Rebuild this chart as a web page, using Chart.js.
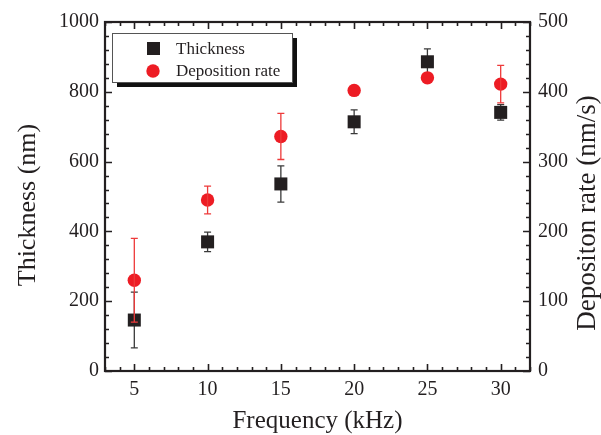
<!DOCTYPE html>
<html><head><meta charset="utf-8">
<script src="https://cdn.jsdelivr.net/npm/chart.js@4/dist/chart.umd.min.js"></script>
<style>html,body{margin:0;padding:0;background:#fff}#wrap{width:601px;height:435px;position:relative}</style>
</head><body><div id="wrap"><canvas id="c" width="601" height="435"></canvas></div>
<script>
// ---- data ----
const frequencies = [5, 10, 15, 20, 25, 30];            // kHz
const thickness = [146, 370, 536, 714, 886, 741];       // nm
const thicknessErr = [80, 28, 52, 34, 37, 22];          // nm
const depositionRate = [130, 245, 336, 402, 420, 411];  // nm/s
const depositionErr = [60, 20, 33, 0, 0, 27];           // nm/s
const xTicks = [5, 10, 15, 20, 25, 30];
const yTicks = [0, 200, 400, 600, 800, 1000];
const y2Ticks = [0, 100, 200, 300, 400, 500];
const seriesNames = ['Thickness', 'Deposition rate'];
const axisTitles = ['Frequency (kHz)', 'Thickness (nm)', 'Depositon rate (nm/s)'];

const F = "'Liberation Serif', 'Times New Roman', serif";
const INK = '#231f20';
const RED = '#ed1c24';

function errBars(chart, vals, errs, color, scaleId) {
  const ctx = chart.ctx, xs = chart.scales.x, ys = chart.scales[scaleId];
  ctx.save();
  ctx.strokeStyle = color; ctx.lineWidth = 1.3;
  frequencies.forEach((f, i) => {
    if (!errs[i]) return;
    const x = xs.getPixelForValue(f);
    const yt = ys.getPixelForValue(vals[i] + errs[i]);
    const yb = ys.getPixelForValue(vals[i] - errs[i]);
    ctx.beginPath();
    ctx.moveTo(x, yt); ctx.lineTo(x, yb);
    ctx.moveTo(x - 3.5, yt); ctx.lineTo(x + 3.5, yt);
    ctx.moveTo(x - 3.5, yb); ctx.lineTo(x + 3.5, yb);
    ctx.stroke();
  });
  ctx.restore();
}

function vTitle(ctx, text, x, y, size) {
  ctx.save();
  ctx.translate(x, y);
  ctx.rotate(-Math.PI / 2);
  ctx.font = size + 'px ' + F;
  ctx.fillStyle = INK;
  ctx.textAlign = 'center';
  ctx.textBaseline = 'middle';
  ctx.fillText(text, 0, 0);
  ctx.restore();
}

const framePlugin = {
  id: 'framePlugin',
  beforeDatasetsDraw(chart) {
    errBars(chart, thickness, thicknessErr, '#3a3a3a', 'y');
  },
  afterDatasetsDraw(chart) {
    errBars(chart, depositionRate, depositionErr, '#ee3a3a', 'y1');
    const ctx = chart.ctx, a = chart.chartArea;
    const xs = chart.scales.x, ys = chart.scales.y, y2 = chart.scales.y1;
    ctx.save();
    ctx.strokeStyle = INK;
    // ticks (inward)
    ctx.lineWidth = 1.6;
    ctx.beginPath();
    for (let v = Math.ceil(xs.min); v <= xs.max; v++) {
      const x = Math.round(xs.getPixelForValue(v)) + 0.5;
      const L = (v % 5 === 0) ? 7 : 4;
      ctx.moveTo(x, a.bottom); ctx.lineTo(x, a.bottom - L);
      ctx.moveTo(x, a.top); ctx.lineTo(x, a.top + L);
    }
    for (let v = 0; v <= ys.max; v += 40) {
      const y = Math.round(ys.getPixelForValue(v)) + 0.5;
      const L = (v % 200 === 0) ? 7 : 4;
      ctx.moveTo(a.left, y); ctx.lineTo(a.left + L, y);
    }
    for (let v = 0; v <= y2.max; v += 20) {
      const y = Math.round(y2.getPixelForValue(v)) + 0.5;
      const L = (v % 100 === 0) ? 7 : 4;
      ctx.moveTo(a.right, y); ctx.lineTo(a.right - L, y);
    }
    ctx.stroke();
    // frame
    ctx.lineWidth = 2.2;
    ctx.strokeRect(a.left, a.top, a.right - a.left, a.bottom - a.top);
    // vertical axis titles (both read bottom-to-top)
    vTitle(ctx, axisTitles[1], 28, 205, 26);
    vTitle(ctx, axisTitles[2], 588, 213, 27);
    // legend
    const lx = 112, ly = 33, lw = 180, lh = 49;
    ctx.fillStyle = '#111';
    ctx.fillRect(lx + 5, ly + 5, lw, lh);
    ctx.fillStyle = '#fff';
    ctx.fillRect(lx, ly, lw, lh);
    ctx.lineWidth = 1; ctx.strokeStyle = '#555';
    ctx.strokeRect(lx + 0.5, ly + 0.5, lw, lh);
    ctx.fillStyle = INK;
    ctx.fillRect(147, 42, 13, 13);
    ctx.fillStyle = RED;
    ctx.beginPath(); ctx.arc(153, 71, 6.7, 0, Math.PI * 2); ctx.fill();
    ctx.fillStyle = INK;
    ctx.font = '17px ' + F;
    ctx.textBaseline = 'alphabetic'; ctx.textAlign = 'left';
    ctx.fillText(seriesNames[0], 176, 54);
    ctx.fillText(seriesNames[1], 176, 76);
    ctx.restore();
  }
};

new Chart(document.getElementById('c'), {
  type: 'scatter',
  data: {
    datasets: [
      {
        label: seriesNames[0],
        data: frequencies.map((f, i) => ({ x: f, y: thickness[i] })),
        yAxisID: 'y',
        pointStyle: 'rect',
        pointRadius: 9.2,
        pointHoverRadius: 9.2,
        backgroundColor: INK,
        borderColor: INK,
        borderWidth: 0
      },
      {
        label: seriesNames[1],
        data: frequencies.map((f, i) => ({ x: f, y: depositionRate[i] })),
        yAxisID: 'y1',
        pointStyle: 'circle',
        pointRadius: 6.7,
        pointHoverRadius: 6.7,
        backgroundColor: RED,
        borderColor: RED,
        borderWidth: 0
      }
    ]
  },
  options: {
    responsive: false,
    animation: false,
    devicePixelRatio: 1,
    layout: { padding: { top: 22, left: 0, right: 0, bottom: 0 } },
    plugins: { legend: { display: false }, tooltip: { enabled: false } },
    scales: {
      x: {
        type: 'linear', position: 'bottom', min: 3, max: 32,
        grid: { display: false, drawTicks: false },
        border: { display: false },
        ticks: { font: { family: F, size: 20 }, color: INK, padding: 7, callback: v => String(v) },
        afterBuildTicks: s => { s.ticks = xTicks.map(v => ({ value: v })); },
        afterFit: s => { s.height = 64; },
        title: { display: true, text: axisTitles[0], color: INK,
                 font: { family: F, size: 25, lineHeight: 1 }, padding: { top: 0, bottom: 1 } }
      },
      y: {
        type: 'linear', position: 'left', min: 0, max: 1000,
        grid: { display: false, drawTicks: false },
        border: { display: false },
        ticks: { font: { family: F, size: 20 }, color: INK, padding: 6, callback: v => String(v) },
        afterBuildTicks: s => { s.ticks = yTicks.map(v => ({ value: v })); },
        afterFit: s => { s.width = 105; }
      },
      y1: {
        type: 'linear', position: 'right', min: 0, max: 500,
        grid: { display: false, drawTicks: false },
        border: { display: false },
        ticks: { font: { family: F, size: 20 }, color: INK, padding: 8, callback: v => String(v) },
        afterBuildTicks: s => { s.ticks = y2Ticks.map(v => ({ value: v })); },
        afterFit: s => { s.width = 71; }
      }
    }
  },
  plugins: [framePlugin]
});
</script>
</body></html>
